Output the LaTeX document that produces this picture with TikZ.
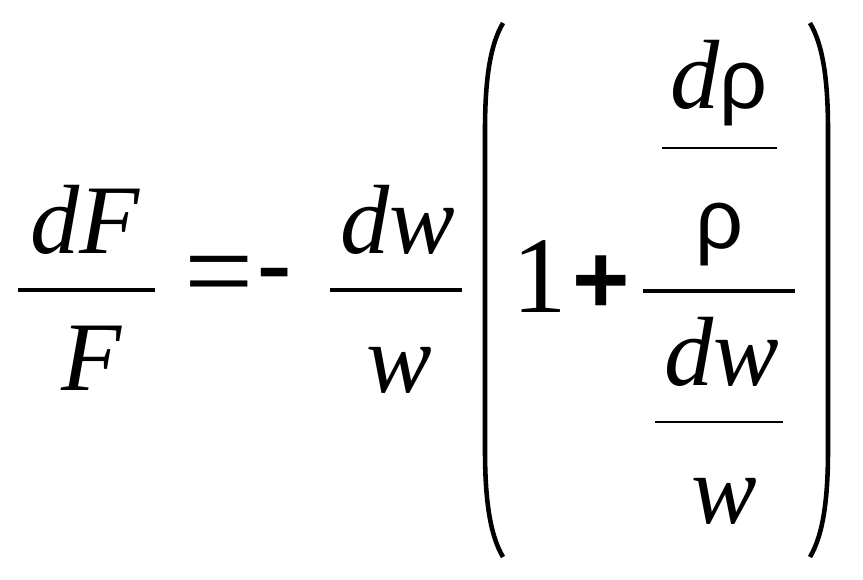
\documentclass[tikz,border=0pt]{standalone}
\usepackage{fontspec}
\setmainfont{Liberation Serif}
\setsansfont{Liberation Sans}
\newcommand{\rh}{{\fontsize{48}{50}\selectfont\sffamily\upshape ρ}}
\tikzset{
  var/.style={anchor=base,inner sep=0pt,font=\fontsize{56}{60}\selectfont\itshape},
  num/.style={anchor=base,inner sep=0pt,font=\fontsize{62}{66}\selectfont},
  op/.style={inner sep=0pt,font=\fontsize{56}{60}\selectfont\sffamily\bfseries},
  minussign/.style={inner sep=0pt,font=\fontsize{62}{64}\selectfont\sffamily},
  rel/.style={inner sep=0pt,font=\fontsize{70}{74}\selectfont},
  bar/.style={line width=2.3pt},
  thinbar/.style={line width=1.1pt},
  paren/.style={line width=2.6pt}
}
\begin{document}
\begin{tikzpicture}[x=0.02cm,y=-0.02cm]
    \useasboundingbox (0,0) rectangle (863,579);
    % left side
    \node[var] (dF) at (85,253) {dF};
    \draw[bar] (18,290) -- (155,290);
    \node[var] (F) at (92,390) {F};
    \node[rel] (eq) at (219,284) {=};
    \node[minussign] (minus) at (275,285) {-};
    % first factor
    \node[var] (dw) at (398,253) {dw};
    \draw[bar] (330,290) -- (462,290);
    \node[var] (w) at (399,392) {w};
    % bracket
    \draw[paren] (503,23) .. controls (490,45) and (485,80) .. (485,130) -- (485,450) .. controls (485,500) and (490,535) .. (503,557);
    \draw[paren] (810,23) .. controls (823,45) and (828,80) .. (828,130) -- (828,450) .. controls (828,500) and (823,535) .. (810,557);
    \node[num] (one) at (540,312) {1};
    \node[op] (plus) at (601,285) {+};
    \draw[bar] (643,291) -- (795,291);
    % nested fraction
    \node[var] (drho) at (719,108) {d\rh};
    \draw[thinbar] (662,148) -- (777,148);
    \node[var] (rho) at (719,248) {\rh};
    \node[var] (dw2) at (722,385) {dw};
    \draw[thinbar] (655,422) -- (783,422);
    \node[var] (w2) at (724,523) {w};
  \end{tikzpicture}
\end{document}
